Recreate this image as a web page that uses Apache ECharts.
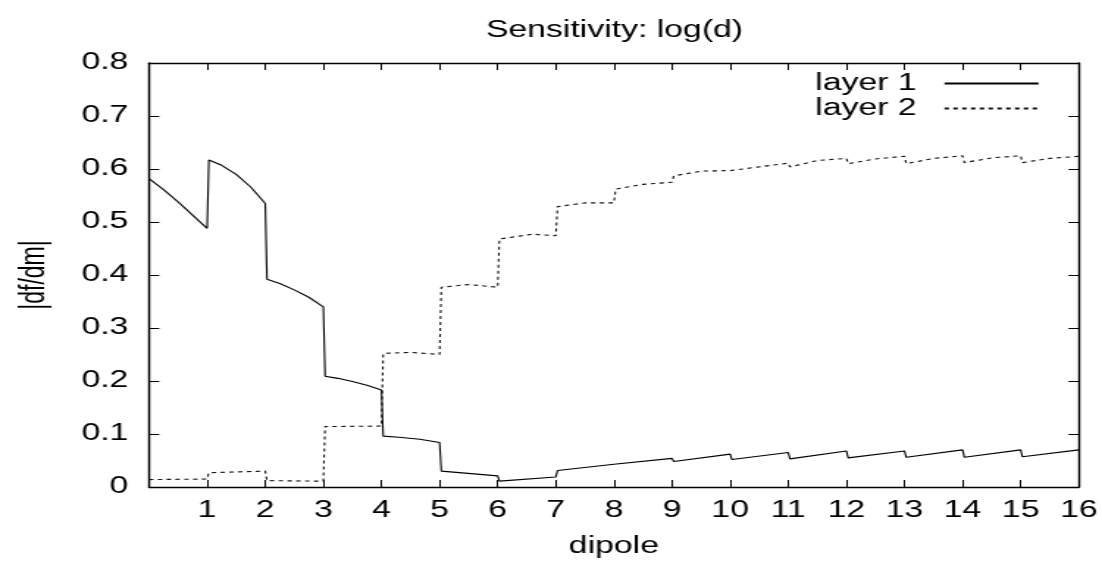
<!DOCTYPE html>
<html><head><meta charset="utf-8">
<script src="https://cdn.jsdelivr.net/npm/echarts@6/dist/echarts.min.js"></script>
<style>
html,body{margin:0;padding:0;background:#fff;overflow:hidden}
#wrap{width:1102px;height:563px;overflow:hidden}
#chart{width:750px;height:563px;transform:scaleX(1.469333);transform-origin:0 0}
</style>
</head><body><div id="wrap"><div id="chart"></div></div>
<script>
// ---- data ----
const xTicks = [0,1,2,3,4,5,6,7,8,9,10,11,12,13,14,15,16];
const yTicks = [0,0.1,0.2,0.3,0.4,0.5,0.6,0.7,0.8];
const seriesNames = ['layer 1', 'layer 2'];

const layer1X = [0,0.25,0.5,0.75,1.0, 1.03,1.25,1.5,1.75,2.0, 2.03,2.25,2.5,2.75,3.0, 3.03,3.25,3.5,3.75,4.0,
  4.03,4.3,4.66,5.0, 5.03,6.0, 6.03,7.0, 7.03,8.0,9.0, 9.03,10.0, 10.03,11.0, 11.03,12.0, 12.03,13.0, 13.03,14.0, 14.03,15.0, 15.03,16.0];
const layer1Y = [0.582,0.561,0.538,0.513,0.488, 0.617,0.607,0.590,0.566,0.535, 0.392,0.384,0.372,0.358,0.340, 0.209,0.205,0.199,0.192,0.183,
  0.096,0.094,0.090,0.084, 0.030,0.021, 0.011,0.019, 0.031,0.043,0.054, 0.048,0.062, 0.052,0.065, 0.053,0.068, 0.055,0.068, 0.056,0.070, 0.056,0.070, 0.057,0.070];

const layer2X = [0,1.0, 1.03,2.0, 2.03,3.0, 3.03,4.0, 4.03,4.5,5.0, 5.03,5.5,6.0, 6.03,6.6,7.0, 7.03,7.5,8.0, 8.03,8.5,9.0,
  9.03,9.5,10.0, 10.03,10.5,11.0, 11.03,11.5,12.0, 12.03,12.5,13.0, 13.03,13.5,14.0, 14.03,14.5,15.0, 15.03,15.5,16.0];
const layer2Y = [0.014,0.015, 0.027,0.030, 0.012,0.011, 0.114,0.115, 0.252,0.254,0.250, 0.377,0.382,0.377, 0.468,0.477,0.474, 0.529,0.536,0.536, 0.562,0.571,0.575,
  0.587,0.596,0.597, 0.595,0.604,0.611, 0.604,0.616,0.620, 0.610,0.619,0.624, 0.610,0.620,0.625, 0.612,0.621,0.625, 0.612,0.620,0.624];

// ---- layout (the whole chart is stretched horizontally like the source image) ----
const S = 1102 / 750;
const FONT = "'Liberation Sans', Arial, Helvetica, sans-serif";
const FS = 23;

const pairs = (xs, ys) => xs.map((x, i) => [x, ys[i]]);

const axisCommon = {
  type: 'value',
  axisLine: { show: true, onZero: false, lineStyle: { color: '#000', width: 1.4 } },
  axisTick: { show: true, inside: true, length: 7, lineStyle: { color: '#000', width: 1 } },
  splitLine: { show: false },
};

const chart = echarts.init(document.getElementById('chart'), null, { renderer: 'canvas' });
chart.setOption({
  animation: false,
  backgroundColor: '#fff',
  title: {
    text: 'Sensitivity: log(d)',
    left: 614.5 / S, top: 19, padding: 0, textAlign: 'center',
    textStyle: { fontFamily: FONT, fontSize: FS, fontWeight: 'normal', color: '#000' }
  },
  legend: {
    data: seriesNames,
    orient: 'vertical', align: 'right',
    right: (1102 - 1040) / S, top: 72, padding: 0,
    itemWidth: 64, itemHeight: 14, itemGap: 2,
    itemStyle: { opacity: 0 },
    textStyle: { fontFamily: FONT, fontSize: FS, color: '#000', padding: [0, 14, 0, 0] }
  },
  grid: { left: 149 / S, right: 22 / S, top: 63, bottom: 76, containLabel: false },
  xAxis: [
    Object.assign({}, axisCommon, {
      position: 'bottom', min: xTicks[0], max: xTicks[xTicks.length - 1], interval: 1,
      axisLabel: { fontFamily: FONT, fontSize: FS, color: '#000', margin: 12,
        formatter: v => (v === 0 ? '' : String(v)) },
      name: 'dipole', nameLocation: 'middle', nameGap: 48,
      nameTextStyle: { fontFamily: FONT, fontSize: FS, color: '#000' }
    }),
    Object.assign({}, axisCommon, {
      position: 'top', min: xTicks[0], max: xTicks[xTicks.length - 1], interval: 1,
      axisLabel: { show: false }
    })
  ],
  yAxis: [
    Object.assign({}, axisCommon, {
      position: 'left', min: yTicks[0], max: yTicks[yTicks.length - 1], interval: 0.1,
      axisLabel: { fontFamily: FONT, fontSize: FS, color: '#000', margin: 14,
        formatter: v => String(Math.round(v * 10) / 10) },
      name: '|df/dm|', nameLocation: 'middle', nameGap: 66, nameRotate: 90,
      nameTextStyle: { fontFamily: FONT, fontSize: FS, color: '#000' }
    }),
    Object.assign({}, axisCommon, {
      position: 'right', min: yTicks[0], max: yTicks[yTicks.length - 1], interval: 0.1,
      axisLabel: { show: false }
    })
  ],
  series: [
    { name: seriesNames[0], type: 'line', xAxisIndex: 0, yAxisIndex: 0, symbol: 'none',
      lineStyle: { color: '#000', width: 1.1, type: 'solid' }, itemStyle: { color: '#000' },
      data: pairs(layer1X, layer1Y) },
    { name: seriesNames[1], type: 'line', xAxisIndex: 0, yAxisIndex: 0, symbol: 'none',
      lineStyle: { color: '#111', width: 1.1, type: [3, 3] }, itemStyle: { color: '#111' },
      data: pairs(layer2X, layer2Y) }
  ]
});
</script></body></html>
